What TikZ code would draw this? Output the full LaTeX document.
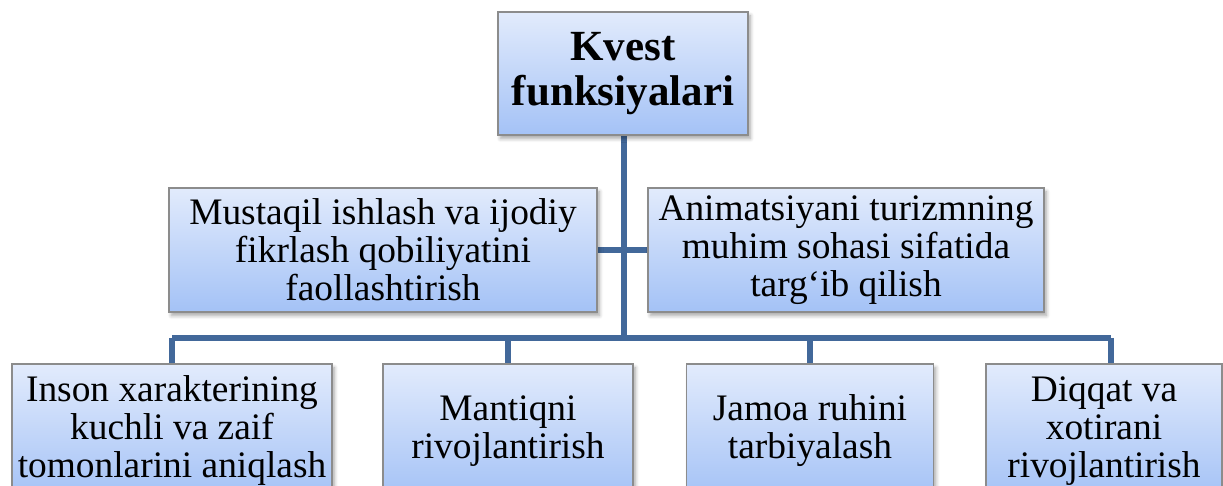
\documentclass[tikz,border=0pt]{standalone}
\usepackage{fontspec}
\setmainfont{Liberation Serif}
\usetikzlibrary{shadows.blur}
\definecolor{linec}{RGB}{66,104,154}
\definecolor{boxtop}{RGB}{226,235,252}
\definecolor{boxbot}{RGB}{164,194,246}
\definecolor{boxline}{RGB}{140,140,140}
\tikzset{
  fbox/.style={draw=boxline, line width=0.6pt, top color=boxtop, bottom color=boxbot,
    align=center, inner sep=0pt, font=\fontsize{18.7}{19}\selectfont,
    blur shadow={shadow xshift=1.2pt, shadow yshift=-1.8pt, shadow opacity=35, shadow blur steps=6}},
  conn/.style={draw=linec, line width=2.6pt}
}
\begin{document}
\begin{tikzpicture}[x=0.5pt,y=-0.5pt]
\useasboundingbox (0,0) rectangle (1223,486);
\clip (0,0) rectangle (1223,486);
\coordinate (bus) at (624,338);
\coordinate (busl) at (172,338);
\coordinate (busr) at (1111,338);
% connectors first
\draw[conn] (624,135) -- (bus);
\draw[conn] (597,250) -- (648,250);
\draw[conn] (busl) -- (busr);
\draw[conn] (busl) -- (172,364);
\draw[conn] (508,338) -- (508,364);
\draw[conn] (810,338) -- (810,364);
\draw[conn] (busr) -- (1111,364);
% nodes
\node[fbox, minimum width=125pt, minimum height=61.5pt, font=\bfseries\fontsize{21.5}{22.5}\selectfont] (top) at (623,73.5) {Kvest\\funksiyalari};
\node[fbox, minimum width=214pt, minimum height=62pt] (ml) at (383,250) {Mustaqil ishlash va ijodiy\\fikrlash qobiliyatini\\faollashtirish};
\node[fbox, minimum width=198pt, minimum height=62pt] (mr) at (846,250) {Animatsiyani turizmning\\muhim sohasi sifatida\\targ‘ib qilish};
\node[fbox, minimum width=160pt, minimum height=67pt] (b1) at (172,431) {Inson xarakterining\\kuchli va zaif\\tomonlarini aniqlash};
\node[fbox, minimum width=125pt, minimum height=67pt] (b2) at (508,431) {Mantiqni\\rivojlantirish};
\node[fbox, minimum width=123.5pt, minimum height=67pt] (b3) at (810,431) {Jamoa ruhini\\tarbiyalash};
\node[fbox, minimum width=118pt, minimum height=67pt] (b4) at (1104,431) {Diqqat va\\xotirani\\rivojlantirish};
\end{tikzpicture}
\end{document}
